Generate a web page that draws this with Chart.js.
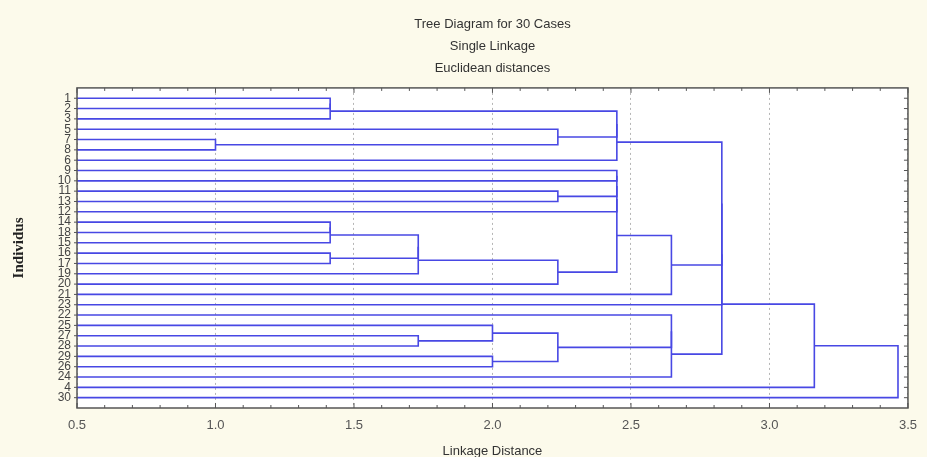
<!DOCTYPE html>
<html lang="en">
<head>
<meta charset="UTF-8">
<title>Tree Diagram for 30 Cases</title>
<style>
  body { margin: 0; background: #fcfaeb; }
  #wrap { width: 927px; height: 457px; }
</style>
<script src="https://cdn.jsdelivr.net/npm/chart.js"></script>
</head>
<body>
<div id="wrap"><canvas id="tree"></canvas></div>
<script>
// leaf order, top to bottom
const leafLabels = ['1', '2', '3', '5', '7', '8', '6', '9', '10', '11',
                    '13', '12', '14', '18', '15', '16', '17', '19', '20', '21',
                    '23', '22', '25', '27', '28', '29', '26', '24', '4', '30'];

// merges: [row or node, row or node, linkage distance]
// rows are 1..30 (top to bottom), each merge makes a new node numbered from 31
const linkage = [
  [1, 2, 1.414], [31, 3, 1.414], [5, 6, 1.0], [4, 33, 2.236], [10, 11, 2.236],
  [13, 14, 1.414], [36, 15, 1.414], [16, 17, 1.414], [37, 38, 1.732], [39, 18, 1.732],
  [40, 19, 2.236], [32, 34, 2.449], [42, 7, 2.449], [8, 9, 2.449], [44, 35, 2.449],
  [45, 12, 2.449], [46, 41, 2.449], [47, 20, 2.646], [24, 25, 1.732], [23, 49, 2.0],
  [26, 27, 2.0], [50, 51, 2.236], [22, 52, 2.646], [53, 28, 2.646], [43, 48, 2.828],
  [55, 21, 2.828], [56, 54, 2.828], [57, 29, 3.162], [58, 30, 3.464]
];

const xMin = 0.5, xMax = 3.5, xStep = 0.5;

const lineColor = '#4848e4';

// place each node halfway between its two children
const nodeY = {}, nodeH = {};
leafLabels.forEach((_, i) => { nodeY[i + 1] = i + 1; nodeH[i + 1] = 0; });

const datasets = linkage.map(([a, b, d], k) => {
  const id = leafLabels.length + 1 + k;
  nodeY[id] = (nodeY[a] + nodeY[b]) / 2;
  nodeH[id] = d;
  return {
    data: [
      { x: nodeH[a], y: nodeY[a] },
      { x: d, y: nodeY[a] },
      { x: d, y: nodeY[b] },
      { x: nodeH[b], y: nodeY[b] }
    ],
    showLine: true,
    borderColor: lineColor,
    borderWidth: 1.6,
    pointRadius: 0,
    tension: 0,
    fill: false
  };
});

// cream page, white plot, framed box with inward ticks
const framePlugin = {
  id: 'frame',
  beforeDraw(chart) {
    const { ctx, chartArea: a } = chart;
    ctx.save();
    ctx.fillStyle = '#fcfaeb';
    ctx.fillRect(0, 0, chart.width, chart.height);
    ctx.fillStyle = '#ffffff';
    ctx.fillRect(a.left, a.top, a.right - a.left, a.bottom - a.top);
    ctx.restore();
  },
  afterDraw(chart) {
    const { ctx, chartArea: a, scales } = chart;
    ctx.save();
    ctx.strokeStyle = '#555';
    ctx.lineWidth = 1.5;
    ctx.strokeRect(a.left, a.top, a.right - a.left, a.bottom - a.top);
    ctx.lineWidth = 1;
    ctx.beginPath();
    for (let v = xMin * 10; v <= xMax * 10; v++) {
      const px = scales.x.getPixelForValue(v / 10);
      const len = v % 5 === 0 ? 5 : 3;
      ctx.moveTo(px, a.top); ctx.lineTo(px, a.top + len);
      ctx.moveTo(px, a.bottom); ctx.lineTo(px, a.bottom - len);
    }
    for (let r = 1; r <= leafLabels.length; r++) {
      const py = scales.y.getPixelForValue(r);
      ctx.moveTo(a.right, py); ctx.lineTo(a.right - 4, py);
      ctx.moveTo(a.left, py); ctx.lineTo(a.left - 3, py);
    }
    ctx.stroke();
    ctx.restore();
  }
};

new Chart(document.getElementById('tree'), {
  type: 'scatter',
  data: { datasets },
  plugins: [framePlugin],
  options: {
    responsive: true,
    maintainAspectRatio: false,
    animation: false,
    layout: { padding: { left: 0, right: 16, top: 0, bottom: 0 } },
    plugins: {
      legend: { display: false },
      tooltip: { enabled: false },
      title: {
        display: true,
        fullSize: false,
        text: ['Tree Diagram for 30 Cases', 'Single Linkage', 'Euclidean distances'],
        color: '#333',
        font: { family: 'Arial, "Liberation Sans", sans-serif', size: 13, weight: 'normal', lineHeight: 1.69 },
        padding: { top: 13, bottom: 9 }
      }
    },
    scales: {
      x: {
        type: 'linear',
        min: xMin,
        max: xMax,
        afterFit: (scale) => { scale.height = 49; },
        ticks: {
          stepSize: xStep,
          padding: 10,
          color: '#555',
          font: { family: 'Arial, "Liberation Sans", sans-serif', size: 13 },
          callback: (v) => v.toFixed(1)
        },
        grid: { color: '#b5b5b5', lineWidth: 1, drawTicks: false },
        border: { display: false, dash: [2, 3] },
        title: {
          display: true,
          text: 'Linkage Distance',
          color: '#333',
          padding: { top: 0, bottom: -2 },
          font: { family: 'Arial, "Liberation Sans", sans-serif', size: 13 }
        }
      },
      y: {
        type: 'linear',
        reverse: true,
        min: 0,
        max: leafLabels.length + 1,
        afterFit: (scale) => { scale.width = 77; },
        ticks: {
          stepSize: 1,
          autoSkip: false,
          padding: 6,
          color: '#444',
          font: { family: 'Arial, "Liberation Sans", sans-serif', size: 12 },
          callback: (v) => leafLabels[v - 1] ?? ''
        },
        grid: { display: false, drawTicks: false },
        border: { display: false },
        title: {
          display: true,
          text: 'Individus',
          color: '#222',
          padding: { top: 10, bottom: 0 },
          font: { family: '"Liberation Serif", "Times New Roman", serif', size: 15, weight: 'bold' }
        }
      }
    }
  }
});
</script>
</body>
</html>
